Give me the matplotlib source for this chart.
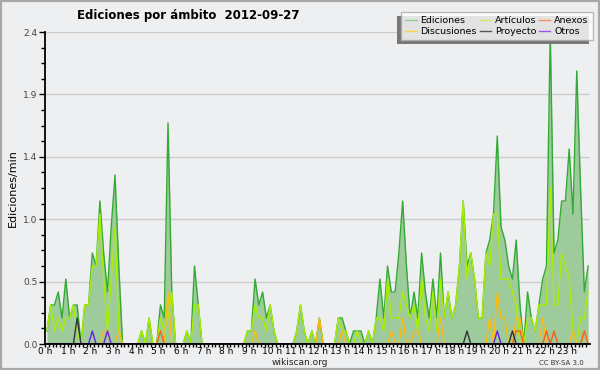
import matplotlib
matplotlib.use('Agg')
import matplotlib.pyplot as plt
import numpy as np
from matplotlib.lines import Line2D
from matplotlib.patches import Rectangle
from matplotlib.ticker import AutoMinorLocator, FormatStrFormatter

# ediciones/min por tramos de 10 min (6 valores por hora, 4 horas por linea)
ediciones = [
    0.1, 0.3, 0.3, 0.4, 0.2, 0.5,  0.2, 0.3, 0.3, 0.0, 0.3, 0.3,  0.7, 0.6, 1.1, 0.7, 0.4, 0.9,  1.3, 0.6, 0.0, 0.0, 0.0, 0.0,
    0.0, 0.1, 0.0, 0.2, 0.0, 0.0,  0.3, 0.2, 1.7, 0.4, 0.0, 0.0,  0.0, 0.1, 0.0, 0.6, 0.3, 0.0,  0.0, 0.0, 0.0, 0.0, 0.0, 0.0,
    0.0, 0.0, 0.0, 0.0, 0.0, 0.1,  0.1, 0.5, 0.3, 0.4, 0.2, 0.3,  0.1, 0.0, 0.0, 0.0, 0.0, 0.0,  0.1, 0.3, 0.1, 0.0, 0.1, 0.0,
    0.2, 0.0, 0.0, 0.0, 0.0, 0.2,  0.2, 0.1, 0.0, 0.1, 0.1, 0.1,  0.0, 0.1, 0.0, 0.2, 0.5, 0.2,  0.6, 0.4, 0.4, 0.7, 1.1, 0.6,
    0.2, 0.4, 0.2, 0.7, 0.4, 0.2,  0.5, 0.2, 0.7, 0.2, 0.4, 0.2,  0.3, 0.6, 1.1, 0.6, 0.7, 0.5,  0.2, 0.2, 0.7, 0.8, 1.0, 1.6,
    0.9, 0.8, 0.6, 0.5, 0.8, 0.3,  0.0, 0.4, 0.2, 0.1, 0.3, 0.5,  0.6, 2.4, 0.7, 0.8, 1.1, 1.1,  1.5, 1.0, 2.1, 1.2, 0.4, 0.6,
]
articulos = [
    0.1, 0.3, 0.1, 0.2, 0.1, 0.2,  0.2, 0.3, 0.1, 0.0, 0.3, 0.3,  0.6, 0.6, 1.0, 0.5, 0.1, 0.5,  0.9, 0.1, 0.0, 0.0, 0.0, 0.0,
    0.0, 0.1, 0.0, 0.2, 0.0, 0.0,  0.2, 0.1, 0.2, 0.4, 0.0, 0.0,  0.0, 0.1, 0.0, 0.3, 0.3, 0.0,  0.0, 0.0, 0.0, 0.0, 0.0, 0.0,
    0.0, 0.0, 0.0, 0.0, 0.0, 0.1,  0.1, 0.3, 0.2, 0.2, 0.1, 0.3,  0.1, 0.0, 0.0, 0.0, 0.0, 0.0,  0.1, 0.3, 0.1, 0.0, 0.1, 0.0,
    0.0, 0.0, 0.0, 0.0, 0.0, 0.2,  0.1, 0.1, 0.0, 0.0, 0.1, 0.0,  0.0, 0.1, 0.0, 0.2, 0.2, 0.1,  0.5, 0.2, 0.2, 0.2, 0.4, 0.3,
    0.2, 0.3, 0.1, 0.5, 0.2, 0.1,  0.4, 0.1, 0.5, 0.2, 0.4, 0.2,  0.3, 0.6, 1.1, 0.5, 0.7, 0.5,  0.2, 0.2, 0.7, 0.6, 1.0, 1.0,
    0.5, 0.5, 0.5, 0.4, 0.3, 0.0,  0.0, 0.2, 0.2, 0.1, 0.3, 0.3,  0.3, 1.2, 0.3, 0.3, 0.7, 0.6,  0.5, 0.1, 0.0, 0.2, 0.2, 0.4,
]
discusiones = [
    0.0, 0.0, 0.0, 0.0, 0.0, 0.0,  0.0, 0.0, 0.0, 0.0, 0.0, 0.0,  0.0, 0.0, 0.0, 0.1, 0.1, 0.0,  0.0, 0.1, 0.0, 0.0, 0.0, 0.0,
    0.0, 0.0, 0.0, 0.0, 0.0, 0.0,  0.0, 0.0, 0.4, 0.0, 0.0, 0.0,  0.0, 0.0, 0.0, 0.0, 0.0, 0.0,  0.0, 0.0, 0.0, 0.0, 0.0, 0.0,
    0.0, 0.0, 0.0, 0.0, 0.0, 0.0,  0.0, 0.1, 0.0, 0.0, 0.0, 0.0,  0.0, 0.0, 0.0, 0.0, 0.0, 0.0,  0.0, 0.0, 0.0, 0.0, 0.0, 0.0,
    0.2, 0.0, 0.0, 0.0, 0.0, 0.0,  0.1, 0.0, 0.0, 0.0, 0.0, 0.0,  0.0, 0.0, 0.0, 0.0, 0.0, 0.0,  0.0, 0.1, 0.0, 0.0, 0.2, 0.0,
    0.0, 0.1, 0.1, 0.0, 0.0, 0.0,  0.0, 0.0, 0.2, 0.0, 0.0, 0.0,  0.0, 0.0, 0.0, 0.0, 0.0, 0.0,  0.0, 0.0, 0.0, 0.2, 0.0, 0.4,
    0.2, 0.2, 0.0, 0.0, 0.2, 0.2,  0.0, 0.0, 0.0, 0.0, 0.0, 0.2,  0.0, 0.0, 0.0, 0.0, 0.0, 0.0,  0.0, 0.1, 0.0, 0.0, 0.1, 0.0,
]
proyecto = [
    0.0, 0.0, 0.0, 0.0, 0.0, 0.0,  0.0, 0.0, 0.2, 0.0, 0.0, 0.0,  0.0, 0.0, 0.0, 0.0, 0.0, 0.0,  0.0, 0.0, 0.0, 0.0, 0.0, 0.0,
    0.0, 0.0, 0.0, 0.0, 0.0, 0.0,  0.0, 0.0, 0.0, 0.0, 0.0, 0.0,  0.0, 0.0, 0.0, 0.0, 0.0, 0.0,  0.0, 0.0, 0.0, 0.0, 0.0, 0.0,
    0.0, 0.0, 0.0, 0.0, 0.0, 0.0,  0.0, 0.0, 0.0, 0.0, 0.0, 0.0,  0.0, 0.0, 0.0, 0.0, 0.0, 0.0,  0.0, 0.0, 0.0, 0.0, 0.0, 0.0,
    0.0, 0.0, 0.0, 0.0, 0.0, 0.0,  0.0, 0.0, 0.0, 0.0, 0.0, 0.0,  0.0, 0.0, 0.0, 0.0, 0.0, 0.0,  0.0, 0.0, 0.0, 0.0, 0.0, 0.0,
    0.0, 0.0, 0.0, 0.0, 0.0, 0.0,  0.0, 0.0, 0.0, 0.0, 0.0, 0.0,  0.0, 0.0, 0.0, 0.1, 0.0, 0.0,  0.0, 0.0, 0.0, 0.0, 0.0, 0.0,
    0.0, 0.0, 0.0, 0.1, 0.0, 0.0,  0.0, 0.0, 0.0, 0.0, 0.0, 0.0,  0.0, 0.0, 0.0, 0.0, 0.0, 0.0,  0.0, 0.0, 0.0, 0.0, 0.0, 0.0,
]
anexos = [
    0.0, 0.0, 0.0, 0.0, 0.0, 0.0,  0.0, 0.0, 0.0, 0.0, 0.0, 0.0,  0.0, 0.0, 0.0, 0.0, 0.0, 0.0,  0.0, 0.0, 0.0, 0.0, 0.0, 0.0,
    0.0, 0.0, 0.0, 0.0, 0.0, 0.0,  0.1, 0.0, 0.0, 0.0, 0.0, 0.0,  0.0, 0.0, 0.0, 0.0, 0.0, 0.0,  0.0, 0.0, 0.0, 0.0, 0.0, 0.0,
    0.0, 0.0, 0.0, 0.0, 0.0, 0.0,  0.0, 0.0, 0.0, 0.0, 0.0, 0.0,  0.0, 0.0, 0.0, 0.0, 0.0, 0.0,  0.0, 0.0, 0.0, 0.0, 0.0, 0.0,
    0.0, 0.0, 0.0, 0.0, 0.0, 0.0,  0.0, 0.0, 0.0, 0.0, 0.0, 0.0,  0.0, 0.0, 0.0, 0.0, 0.0, 0.0,  0.0, 0.0, 0.0, 0.0, 0.0, 0.0,
    0.0, 0.0, 0.0, 0.0, 0.0, 0.0,  0.0, 0.0, 0.0, 0.0, 0.0, 0.0,  0.0, 0.0, 0.0, 0.0, 0.0, 0.0,  0.0, 0.0, 0.0, 0.0, 0.0, 0.0,
    0.0, 0.0, 0.0, 0.0, 0.1, 0.1,  0.0, 0.0, 0.0, 0.0, 0.0, 0.0,  0.1, 0.0, 0.1, 0.0, 0.0, 0.0,  0.0, 0.0, 0.0, 0.0, 0.1, 0.0,
]
otros = [
    0.0, 0.0, 0.0, 0.0, 0.0, 0.0,  0.0, 0.0, 0.0, 0.0, 0.0, 0.0,  0.1, 0.0, 0.0, 0.0, 0.1, 0.0,  0.0, 0.0, 0.0, 0.0, 0.0, 0.0,
    0.0, 0.0, 0.0, 0.0, 0.0, 0.0,  0.0, 0.0, 0.0, 0.0, 0.0, 0.0,  0.0, 0.0, 0.0, 0.0, 0.0, 0.0,  0.0, 0.0, 0.0, 0.0, 0.0, 0.0,
    0.0, 0.0, 0.0, 0.0, 0.0, 0.0,  0.0, 0.0, 0.0, 0.0, 0.0, 0.0,  0.0, 0.0, 0.0, 0.0, 0.0, 0.0,  0.0, 0.0, 0.0, 0.0, 0.0, 0.0,
    0.0, 0.0, 0.0, 0.0, 0.0, 0.0,  0.0, 0.0, 0.0, 0.0, 0.0, 0.0,  0.0, 0.0, 0.0, 0.0, 0.0, 0.0,  0.0, 0.0, 0.0, 0.0, 0.0, 0.0,
    0.0, 0.0, 0.0, 0.0, 0.0, 0.0,  0.0, 0.0, 0.0, 0.0, 0.0, 0.0,  0.0, 0.0, 0.0, 0.0, 0.0, 0.0,  0.0, 0.0, 0.0, 0.0, 0.0, 0.1,
    0.0, 0.0, 0.0, 0.0, 0.0, 0.0,  0.0, 0.0, 0.0, 0.0, 0.0, 0.0,  0.0, 0.0, 0.0, 0.0, 0.0, 0.0,  0.0, 0.0, 0.0, 0.0, 0.0, 0.0,
]
hour_labels = [f'{h} h' for h in range(24)]

BG = '#eeeff1'

fig = plt.figure(figsize=(6, 3.7), dpi=100)
fig.patch.set_facecolor(BG)
# borde gris alrededor de la imagen
fig.patches.append(Rectangle((0.002, 0.003), 0.996, 0.994, transform=fig.transFigure,
                             fill=False, edgecolor='#a8a8a8', linewidth=1.6, zorder=0))

ax = fig.add_axes([45 / 600, 26 / 370, 545 / 600, 312 / 370])
ax.set_facecolor(BG)

t = (np.arange(len(ediciones)) + 0.5) / 6.0  # centro de cada tramo de 10 min, en horas

ax.fill_between(t, 0, ediciones, color='#9dcb9b', linewidth=0, zorder=1)
ax.plot(t, ediciones, color='#33aa33', lw=1.0, zorder=2)
ax.plot(t, articulos, color='#aaee00', lw=1.0, zorder=3)
ax.plot(t, discusiones, color='#ffbb11', lw=1.0, zorder=4)
ax.plot(t, anexos, color='#ff5a1a', lw=1.0, zorder=4)
ax.plot(t, proyecto, color='#333333', lw=1.0, zorder=4)
ax.plot(t, otros, color='#6a1ee6', lw=1.0, zorder=4)

ax.set_xlim(0, 24)
ax.set_ylim(0, 2.4)
ax.set_yticks(np.linspace(0, 2.4, 6))
ax.yaxis.set_major_formatter(FormatStrFormatter('%.1f'))
ax.yaxis.set_minor_locator(AutoMinorLocator(4))
ax.set_xticks(range(24))
ax.set_xticklabels(hour_labels)
ax.set_xticks(np.arange(0, 24, 1 / 6), minor=True)

ax.grid(axis='y', color='#cccccc', linewidth=1.0, zorder=0)
ax.set_axisbelow(True)
for s in ['top', 'right']:
    ax.spines[s].set_visible(False)
for s in ['left', 'bottom']:
    ax.spines[s].set_linewidth(1.3)
    ax.spines[s].set_zorder(6)

ax.tick_params(axis='y', which='major', length=4.5, width=1, labelsize=6.5, labelcolor='#444444', pad=1)
ax.tick_params(axis='y', which='minor', length=3, width=1)
ax.tick_params(axis='x', which='major', length=2.5, width=1, labelsize=6.5, pad=0)
ax.tick_params(axis='x', which='minor', length=2.5, width=1)

ax.set_ylabel('Ediciones/min', fontsize=8, labelpad=4)

fig.text(0.313, 0.958, 'Ediciones por ámbito  2012-09-27', ha='center', va='center',
         fontsize=8.5, fontweight='bold')
fig.text(0.5, 0.019, 'wikiscan.org', ha='center', va='center', fontsize=6.5, color='#222222')
fig.text(0.935, 0.019, 'CC BY-SA 3.0', ha='center', va='center', fontsize=5, color='#333333')

handles = [
    Line2D([], [], color='#8fd18f', lw=1),
    Line2D([], [], color='#ffd24d', lw=1),
    Line2D([], [], color='#ccee66', lw=1),
    Line2D([], [], color='#555555', lw=1),
    Line2D([], [], color='#ff8a5c', lw=1),
    Line2D([], [], color='#9955ee', lw=1),
]
labels = ['Ediciones', 'Discusiones', 'Artículos', 'Proyecto', 'Anexos', 'Otros']
leg = fig.legend(handles, labels, ncol=3, loc='upper right', bbox_to_anchor=(0.988, 0.968),
                 fontsize=6.8, frameon=True, fancybox=False, handlelength=1.2, handletextpad=0.4,
                 columnspacing=0.3, labelspacing=0.2, borderpad=0.45, borderaxespad=0)
leg.get_frame().set_edgecolor('#aaaaaa')
leg.get_frame().set_linewidth(1)
leg.set_zorder(10)

# sombra del recuadro de la leyenda (abajo a la izquierda)
fig.canvas.draw()
bb = leg.get_window_extent().transformed(fig.transFigure.inverted())
fig.patches.append(Rectangle((bb.x0 - 4 / 600, bb.y0 - 4 / 370), bb.width, bb.height,
                             transform=fig.transFigure, facecolor='#777777', edgecolor='none', zorder=9))

fig.savefig('out.png', dpi=100, facecolor=BG)
